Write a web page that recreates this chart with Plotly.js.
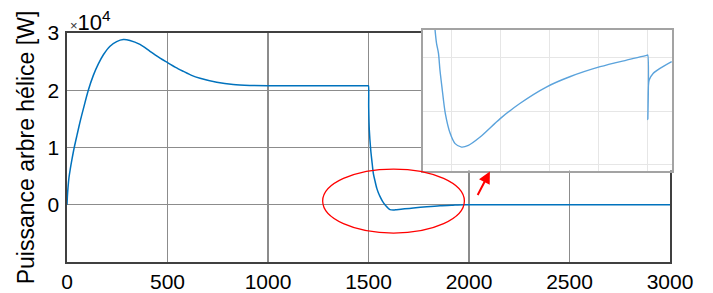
<!DOCTYPE html>
<html>
<head>
<meta charset="utf-8">
<script src="https://cdn.plot.ly/plotly-3.0.1.min.js"></script>
<style>html,body{margin:0;padding:0;background:#fff;}#chart{width:713px;height:293px;}</style>
</head>
<body>
<div id="chart"></div>
<script>
// Main curve: propeller shaft power [W] vs time
const mainX = [0, 2, 5, 10, 16, 24, 36, 50, 65, 81, 106, 131, 156, 181, 214, 247, 280, 313, 363, 413, 463, 504, 540, 579, 620, 662, 745, 827, 910, 1000, 1200, 1350, 1499, 1500, 1501, 1504, 1511, 1518, 1524, 1532, 1541, 1549, 1557, 1570, 1582, 1595, 1607, 1623, 1640, 1680, 1723, 1790, 1856, 1920, 1972, 2000, 2100, 2500, 3000];
const mainY = [0, 1500, 3000, 4800, 6200, 7800, 10000, 12200, 14500, 16700, 20000, 22600, 24600, 26200, 27700, 28500, 28850, 28700, 28000, 26800, 25600, 24750, 24000, 23300, 22600, 22100, 21400, 21000, 20850, 20800, 20800, 20800, 20800, 20800, 17000, 13100, 9600, 7300, 5500, 4200, 2900, 2100, 1460, 600, 0, -500, -850, -920, -870, -720, -580, -350, -170, -70, 0, 0, 0, 0, 0];
// Inset (zoom on the undershoot region)
const insetX = [1562, 1566, 1569, 1573, 1576, 1580, 1587, 1597, 1607, 1620, 1634, 1658, 1699, 1739, 1794, 1841, 1903, 1957, 1998, 2000, 2000.3, 2001.5, 2003, 2011, 2025, 2049];
const insetY = [500, 260, 135, 41, -115, -272, -522, -709, -803, -835, -819, -741, -569, -428, -272, -178, -84, -22, 22, 25, -578, -260, -208, -147, -100, -37];
// Ticks
const xTickVals = [0, 500, 1000, 1500, 2000, 2500, 3000];
const xTickText = ['0', '500', '1000', '1500', '2000', '2500', '3000'];
const yTickVals = [0, 10000, 20000, 30000];
const yTickText = ['0', '1', '2', '3'];
const insetXTicks = [1600, 1700, 1800, 1900, 2000];
const insetYTicks = [-1000, -500, 0];

const FONT = '"Liberation Sans", Arial, sans-serif';

const traces = [
  {x: mainX, y: mainY, type: 'scatter', mode: 'lines', line: {color: '#0072bd', width: 1.5, shape: 'spline', smoothing: 0.8}, xaxis: 'x', yaxis: 'y', hoverinfo: 'skip'},
  {x: insetX, y: insetY, type: 'scatter', mode: 'lines', line: {color: '#5ba3dc', width: 1.4, shape: 'spline', smoothing: 0.8}, xaxis: 'x2', yaxis: 'y2', hoverinfo: 'skip'}
];

const layout = {
  width: 713, height: 293,
  margin: {l: 67, r: 41, t: 30, b: 31, pad: 0},
  paper_bgcolor: '#ffffff', plot_bgcolor: '#ffffff',
  showlegend: false,
  font: {family: FONT, color: '#000000', size: 21},
  xaxis: {
    domain: [0, 603/605], range: [0, 3000],
    tickvals: xTickVals, ticktext: xTickText,
    showgrid: true, gridcolor: '#8c8c8c', gridwidth: 1.3,
    showline: true, mirror: true, linecolor: '#404040', linewidth: 1.6,
    zeroline: false, ticks: '', tickfont: {size: 21, color: '#000'},
    fixedrange: true
  },
  yaxis: {
    domain: [0, 229/232], range: [-10000, 30000],
    tickvals: yTickVals, ticktext: yTickText,
    showgrid: true, gridcolor: '#8c8c8c', gridwidth: 1.3,
    showline: true, mirror: true, linecolor: '#404040', linewidth: 1.6,
    zeroline: false, ticks: '', tickfont: {size: 21, color: '#000'},
    ticklabelstandoff: 2,
    title: {text: 'Puissance arbre hélice [W]', font: {size: 23, color: '#000'}, standoff: 6},
    fixedrange: true
  },
  xaxis2: {
    anchor: 'y2', domain: [356/605, 1], range: [1541.4, 2049.6],
    tickvals: insetXTicks, showticklabels: false,
    showgrid: true, gridcolor: '#e6e6e6', gridwidth: 1,
    showline: true, mirror: true, linecolor: '#a3a3a3', linewidth: 2,
    zeroline: false, ticks: '', fixedrange: true
  },
  yaxis2: {
    anchor: 'x2', domain: [91.5/232, 1], range: [-1054, 259],
    tickvals: insetYTicks, showticklabels: false,
    showgrid: true, gridcolor: '#e6e6e6', gridwidth: 1,
    showline: true, mirror: true, linecolor: '#a3a3a3', linewidth: 2,
    zeroline: false, ticks: '', fixedrange: true
  },
  shapes: [
    {type: 'circle', xref: 'x', yref: 'y', x0: 1272, x1: 1977, y0: -4950, y1: 6240,
     line: {color: '#ff0000', width: 1.3}, fillcolor: 'rgba(0,0,0,0)', layer: 'above'}
  ],
  annotations: [
    {xref: 'x', yref: 'y', x: 2104, y: 5816, ax: -13, ay: 25, text: '', showarrow: true,
     arrowhead: 2, arrowsize: 1.2, arrowwidth: 2, arrowcolor: '#ff0000', standoff: 0},
    {xref: 'paper', yref: 'paper', x: 0, y: 229/232, xanchor: 'left', yanchor: 'bottom', yshift: -4, xshift: 1,
     text: '<span style="font-size:13px;color:#333">×</span>10<sup>4</sup>', showarrow: false,
     font: {size: 22, color: '#000', family: FONT}}
  ]
};

Plotly.newPlot('chart', traces, layout, {staticPlot: true, displayModeBar: false});
</script>
</body>
</html>
